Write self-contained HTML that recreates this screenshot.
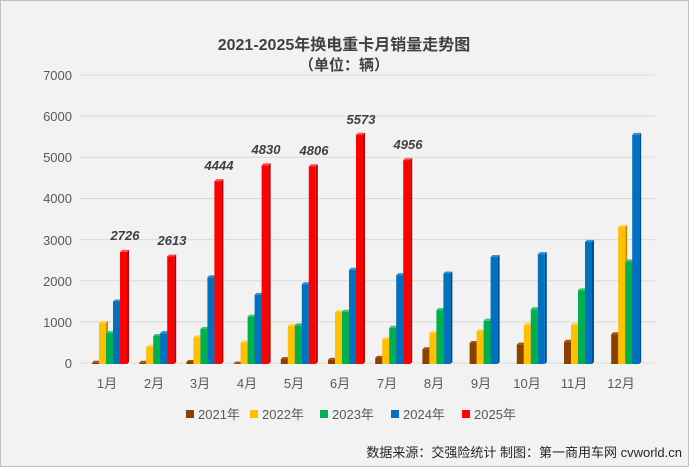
<!DOCTYPE html>
<html><head><meta charset="utf-8"><style>
body{margin:0;background:#fff}
svg{display:block;font-family:"Liberation Sans","Noto Sans CJK SC",sans-serif}
</style></head><body>
<svg id="s" width="689" height="467" viewBox="0 0 689 467" xmlns="http://www.w3.org/2000/svg">
<rect x="0.5" y="0.5" width="688" height="466" fill="#f2f2f2" stroke="#bfbfbf"/>
<text x="344" y="50" text-anchor="middle" font-size="16" font-weight="bold" fill="#404040">2021-2025年换电重卡月销量走势图</text>
<text x="344" y="70" text-anchor="middle" font-size="15" font-weight="bold" fill="#404040">（单位：辆）</text>
<g id="grid" stroke="#d9d9d9" stroke-width="1"></g>
<g font-size="13" fill="#595959" text-anchor="end">
<text x="72" y="368">0</text><text x="72" y="327">1000</text><text x="72" y="286">2000</text><text x="72" y="245">3000</text><text x="72" y="203">4000</text><text x="72" y="162">5000</text><text x="72" y="121">6000</text><text x="72" y="80">7000</text>
</g>
<g id="bars"></g>
<g font-size="13" fill="#595959" text-anchor="middle">
<text x="107" y="388">1月</text><text x="154" y="388">2月</text><text x="200" y="388">3月</text><text x="247" y="388">4月</text><text x="294" y="388">5月</text><text x="340" y="388">6月</text><text x="387" y="388">7月</text><text x="434" y="388">8月</text><text x="481" y="388">9月</text><text x="527" y="388">10月</text><text x="574" y="388">11月</text><text x="621" y="388">12月</text>
</g>
<g font-size="13" font-weight="bold" font-style="italic" fill="#404040" text-anchor="middle">
<text x="125" y="240">2726</text><text x="172" y="245">2613</text><text x="219" y="170">4444</text><text x="266" y="154">4830</text><text x="314" y="155">4806</text><text x="361" y="124">5573</text><text x="408" y="149">4956</text>
</g>
<g font-size="13" fill="#595959">
<rect x="186" y="410" width="8" height="8" fill="#8b4000"/><text x="198" y="419">2021年</text>
<rect x="250" y="410" width="8" height="8" fill="#ffc000"/><text x="262" y="419">2022年</text>
<rect x="320" y="410" width="8" height="8" fill="#00b050"/><text x="332" y="419">2023年</text>
<rect x="391" y="410" width="8" height="8" fill="#0070c0"/><text x="403" y="419">2024年</text>
<rect x="462" y="410" width="8" height="8" fill="#ff0000"/><text x="474" y="419">2025年</text>
</g>
<text x="682" y="457" text-anchor="end" font-size="13" fill="#262626">数据来源：交强险统计 制图：第一商用车网 cvworld.cn</text>
</svg>
<script>
var NS="http://www.w3.org/2000/svg";
var g=document.getElementById('grid');
for(var i=0;i<=7;i++){var y=363-i*41.14;var l=document.createElementNS(NS,'line');l.setAttribute('x1',80);l.setAttribute('x2',655);l.setAttribute('y1',y);l.setAttribute('y2',y);g.appendChild(l);}
var d=[[30,30,50,10,120,100,150,360,510,470,540,720],
[1000,420,650,520,930,1260,600,750,800,950,950,3330],
[750,680,850,1150,940,1270,880,1310,1050,1330,1790,2490],
[1520,750,2110,1680,1940,2290,2160,2200,2600,2670,2970,5570],
[2726,2613,4444,4830,4806,5573,4956]];
var c=[["#8b4000","#5e2b00","#a85000"],["#ffc000","#bf9000","#ffd34d"],["#00b050","#007a38","#33c46f"],["#0070c0","#004f88","#3390d0"],["#ff0000","#b30000","#ff4d4d"]];
var b=document.getElementById('bars');
function poly(p,f){var e=document.createElementNS(NS,'polygon');e.setAttribute('points',p);e.setAttribute('fill',f);b.appendChild(e);}
for(var m=0;m<12;m++){for(var s=0;s<5;s++){var v=d[s][m];if(v===undefined)continue;
var x=92+m*47.2+s*7,w=7,h=v*0.04114,y=364-h;
poly((x+w)+","+y+" "+(x+w+2)+","+(y-2)+" "+(x+w+2)+","+(364-2)+" "+(x+w)+","+364,c[s][1]);
poly(x+","+y+" "+(x+2)+","+(y-2)+" "+(x+w+2)+","+(y-2)+" "+(x+w)+","+y,c[s][2]);
var r=document.createElementNS(NS,'rect');r.setAttribute('x',x);r.setAttribute('y',y);r.setAttribute('width',w);r.setAttribute('height',h);r.setAttribute('fill',c[s][0]);b.appendChild(r);}}
</script>
</body></html>
